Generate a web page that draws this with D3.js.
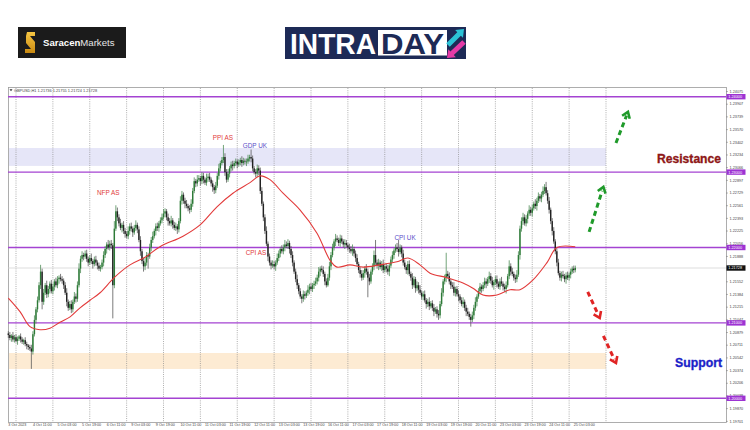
<!DOCTYPE html>
<html><head><meta charset="utf-8">
<script src="https://cdn.jsdelivr.net/npm/d3@7"></script>
<style>html,body{margin:0;padding:0;background:#fff;} svg{display:block;font-family:"Liberation Sans",Arial,sans-serif;}</style>
</head><body><svg id="c" width="750" height="430"></svg>
<script>
// ---------------- DATA ----------------
const headerText = "GBPUSD,H1  1.21736 1.21755 1.21724 1.21728";
const basePrice = 1.2;        // candle values are pips above this price
const firstOpen = 86;
const closes = [
84,80,83,78,81,76,79,82,78,75,77,72,70,68,66,
62,85,104,118,130,150,168,
128,140,150,138,145,152,142,148,155,150,158,160,
158,156,150,140,128,120,125,118,
128,135,132,150,172,185,190,
188,192,185,180,186,182,178,184,180,176,172,174,
180,190,198,204,200,205,203,
150,225,248,
240,232,226,230,222,218,215,222,228,225,220,226,230,224,
210,195,182,175,180,190,
188,200,210,215,
222,228,226,232,236,240,245,248,240,235,
232,236,230,226,228,224,235,
262,270,262,258,255,
252,250,258,
275,288,285,290,
292,288,295,290,286,292,294,
290,285,280,276,282,
295,305,312,316,
320,300,290,298,
305,310,308,
312,314,310,313,316,312,315,
314,314,318,320,318,305,300,298,305,
302,275,258,240,222,205,188,180,
176,178,175,180,
186,192,198,195,200,204,202,206,
198,190,180,168,
158,150,142,135,132,138,
136,140,144,148,145,150,152,155,160,
168,172,170,165,
155,150,160,175,190,200,
208,212,210,206,212,208,204,206,203,
200,198,195,198,192,186,
178,170,165,160,166,172,168,
160,155,168,175,190,180,176,
180,174,178,170,175,172,168,
176,184,190,196,200,198,194,200,
192,180,174,170,178,
165,160,150,158,146,150,
144,140,135,138,130,125,128,122,126,120,115,118,112,110,
125,140,155,160,165,162,
155,150,148,140,145,138,
135,130,125,128,120,115,112,108,104,110,120,128,
135,142,148,145,
150,155,152,158,162,156,150,154,158,152,148,155,152,
148,145,150,162,175,168,
165,160,158,164,
190,225,235,240,232,
238,245,250,246,252,258,
255,262,268,265,270,275,280,
272,
262,250,235,222,
208,195,180,
166,160,164,162,158,163,
160,164,168,172,170,173];
const hiWick = [
3,4,2,5,3,4,3,2,4,3, 2,4,3,2,3,5,4,6,3,5, 4,9,4,5,3,6,4,3,5,4, 3,5,4,3,5,4,3,4,6,3,
4,5,3,6,4,5,7,4,5,3, 4,5,3,4,6,3,4,5,3,4, 3,4,5,4,3,6,4,5,3,10, 8,5,4,6,3,5,4,3,6,4,
5,3,4,6,3,4,5,3,4,6, 4,3,5,4,6,3,4,5,3,4, 5,6,4,3,5,4,6,3,4,5, 3,4,6,5,3,4,5,3,4,6,
4,5,3,6,4,3,5,4,3,6, 4,5,3,4,3,5,4,6,3,4, 16,5,4,6,3,4,5,3,4,3, 4,3,5,4,3,4,5,3,10,4,
3,4,5,4,4,5,3,4,6,3, 4,3,5,4,3,6,4,3,5,4, 6,4,5,3,4,5,3,4,6,3, 4,3,5,4,3,6,4,5,3,4,
5,4,6,3,4,5,3,4,5,6, 4,5,3,6,4,3,5,4,3,5, 4,3,5,4,6,3,4,5,3,4, 5,4,3,6,4,5,3,4,6,20,
4,5,3,4,6,3,4,5,3,4, 5,3,4,6,12,4,3,5,4,3, 4,5,3,6,4,3,5,4,6,3, 4,5,3,4,6,3,4,5,3,4,
5,4,6,3,4,28,4,5,3,4, 6,3,4,5,3,4,6,3,4,5, 3,4,5,4,6,3,4,5,3,4, 5,4,3,6,4,5,3,4,5,3,
4,6,3,4,5,3,8,4,5,3, 4,6,5,4,5,6,4,5,3,6, 4,5,3,6,4,5,3,4,6,4, 7,4,5,3,4,5,3,4,5,3,
4,5,3,4,5,3,4,3,4,3];
const loWick = [
4,3,5,3,4,2,5,3,4,3, 4,3,5,4,3,23,4,3,5,4, 3,5,10,4,3,5,4,6,3,4, 5,3,4,6,3,4,5,3,6,4,
3,5,4,3,5,4,3,6,4,5, 3,4,5,3,4,6,3,4,5,3, 4,3,5,4,6,3,4,5,44,4, 3,5,4,3,6,4,5,3,4,5,
4,6,3,4,5,3,6,4,7,5, 4,16,3,5,4,3,6,4,5,3, 4,3,5,4,6,3,4,5,3,4, 6,4,3,5,4,6,3,4,5,3,
4,3,5,4,3,6,4,5,3,4, 5,3,4,6,5,4,3,5,4,3, 4,5,4,3,5,4,6,3,4,5, 3,4,5,3,4,6,3,4,5,4,
3,5,4,6,4,3,5,4,3,6, 4,5,3,4,6,3,4,5,3,4, 5,3,4,6,4,5,3,4,5,4, 3,6,4,5,3,4,6,3,4,5,
3,4,5,6,3,4,5,3,2,4, 5,3,4,6,3,4,5,3,4,6, 3,4,5,3,6,4,5,3,4,5, 4,3,6,4,26,5,3,4,5,3,
4,6,3,5,4,3,5,4,6,3, 4,5,3,4,6,3,5,4,3,5, 6,3,4,5,3,6,4,5,3,4, 5,3,6,4,5,3,4,6,3,5,
6,4,3,5,4,6,3,4,5,3, 4,5,3,6,4,3,5,4,6,3, 4,9,3,5,4,6,3,4,5,3, 4,6,3,5,4,3,6,4,5,3,
4,3,5,4,6,3,4,5,3,4, 5,4,3,6,4,5,3,4,6,3, 4,5,3,4,6,3,4,5,3,4, 3,4,5,4,6,3,4,5,3,4,
5,3,4,6,3,4,5,3,4,3];
// moving average (red line) read at these bar positions, in pips above basePrice
const maBars = [0,7.6,14.1,20.6,27.1,33.6,40.2,46.7,53.2,59.7,69.4,79.2,89,98.7,113.7,124.8,135.8,146.2,157.3,163.8,170.3,178.8,189.8,200.9,209.4,213.9,222.4,230.9,241.9,252.9,260.1,267.9,274.5,285.5,295.9,302.4,308.9,318,326.5,333,341.5,350.6,357.1,369];
const maPips = [133,115,95,91,93,101,108,120,130,140,161,177,187,201,215,230,254,272,286,295,290,272,250,219,183,174,177,174,177,181,186,177,166,160,153,146,137,137,144,144,157,180,200,201];
const dateLabels = ["3 Oct 2023","4 Oct 11:00","5 Oct 03:00","5 Oct 19:00","6 Oct 11:00","9 Oct 03:00","9 Oct 19:00","10 Oct 11:00","11 Oct 03:00","11 Oct 19:00","12 Oct 11:00","13 Oct 03:00","13 Oct 19:00","16 Oct 11:00","17 Oct 03:00","17 Oct 19:00","18 Oct 11:00","19 Oct 03:00","19 Oct 19:00","20 Oct 11:00","23 Oct 03:00","23 Oct 19:00","24 Oct 11:00","25 Oct 03:00"];
const priceTicks = [1.24075,1.23907,1.23739,1.23570,1.23402,1.23234,1.23066,1.22897,1.22729,1.22561,1.22393,1.22225,1.22056,1.21888,1.21552,1.21384,1.21215,1.21047,1.20879,1.20711,1.20542,1.20374,1.20206,1.20038,1.19870,1.19701];
const levelPrices = [1.24, 1.23, 1.22, 1.21, 1.20];
const lastPrice = 1.21728;
const zoneLow  = [1.23082, 1.20389];
const zoneHigh = [1.23320, 1.20601];
const eventNames  = ["NFP AS","PPI AS","GDP UK","CPI AS","CPI UK"];
const eventBars   = [65, 139.7, 160.5, 161.2, 258.2];
const eventPrices = [1.22690, 1.23432, 1.23326, 1.21894, 1.22106];
const arrowFromBar   = [395.5, 378.0, 377.1, 387.3];
const arrowFromPrice = [1.23386, 1.22207, 1.21411, 1.20828];
const arrowToBar     = [403.3, 387.3, 384.9, 395.5];
const arrowToPrice   = [1.23798, 1.22804, 1.21066, 1.20469];
const resistanceLabel = "Resistance", resistancePrice = 1.23120;
const supportLabel = "Support", supportPrice = 1.20416;

// ---------------- DRAW ----------------
const svg = d3.select("#c");
const plot = {left:8, top:87, right:726, bottom:422};
const x = d3.scaleLinear().domain([5, 389]).range([16, 606]);
const y = d3.scaleLinear().domain([1.20, 1.24]).range([398.3, 96.7]);
const P = v => basePrice + v / 10000;

// logos
const sar = svg.append("g");
sar.append("rect").attr("x",18).attr("y",27).attr("width",108).attr("height",31).attr("fill","#1b1b1b");
const gd = svg.append("defs").append("linearGradient").attr("id","gold").attr("x1",0).attr("y1",0).attr("x2",0).attr("y2",1);
gd.append("stop").attr("offset","0").attr("stop-color","#f6c643");
gd.append("stop").attr("offset","1").attr("stop-color","#c98a12");
sar.append("path").attr("d","M27,32 L35,32 L35,36 L30,36 L35,42 L35,53 L25,53 L25,49 L31,49 L26,43 L26,36 Z").attr("fill","url(#gold)");
const st = sar.append("text").attr("x",43).attr("y",46).attr("font-size",9.6).attr("fill","#fff");
st.append("tspan").attr("font-weight","bold").text("Saracen");
st.append("tspan").attr("fill","#e6e6e6").text("Markets");

const intra = svg.append("g");
intra.append("rect").attr("x",285).attr("y",27).attr("width",181).attr("height",32).attr("fill","#1d2a56");
intra.append("rect").attr("x",378).attr("y",30).attr("width",69).attr("height",25.5).attr("fill","#fff");
intra.append("text").attr("x",290).attr("y",53.5).attr("font-size",29.5).attr("font-weight","bold").attr("fill","#fff")
  .attr("textLength",86).attr("lengthAdjust","spacingAndGlyphs").text("INTRA");
intra.append("text").attr("x",381).attr("y",53.5).attr("font-size",29.5).attr("font-weight","bold").attr("fill","#1d2a56")
  .attr("textLength",63).attr("lengthAdjust","spacingAndGlyphs").text("DAY");
function blockArrow(g,x1,y1,x2,y2,sw,hw,hl,color){
  const L = Math.hypot(x2-x1,y2-y1), a = Math.atan2(y2-y1,x2-x1)*180/Math.PI;
  const pts = [[0,-sw/2],[L-hl,-sw/2],[L-hl,-hw/2],[L,0],[L-hl,hw/2],[L-hl,sw/2],[0,sw/2]];
  g.append("polygon").attr("points",pts.map(p=>p.join(",")).join(" "))
   .attr("transform",`translate(${x1},${y1}) rotate(${a})`).attr("fill",color);
}
blockArrow(intra,448,45,464,29,5,11,7,"#2cc3d6");
blockArrow(intra,464,42,447,58,5,11,7,"#e43aa6");

// chart frame
svg.append("rect").attr("x",plot.left+0.5).attr("y",plot.top+0.5)
  .attr("width",plot.right-plot.left).attr("height",plot.bottom-plot.top)
  .attr("fill","#fff").attr("stroke","#9a9a9a").attr("stroke-width",0.8);

// zones
const zoneColors = ["#e6e6f8","#fdebd3"];
svg.selectAll("rect.zone").data(zoneLow).join("rect").attr("class","zone")
  .attr("x",plot.left+1).attr("width",x(389)-plot.left-1)
  .attr("y",(d,i)=>y(zoneHigh[i])).attr("height",(d,i)=>y(zoneLow[i])-y(zoneHigh[i]))
  .attr("fill",(d,i)=>zoneColors[i]);

// vertical day grid
svg.selectAll("line.vgrid").data(d3.range(5, 390, 24)).join("line").attr("class","vgrid")
  .attr("x1",d=>x(d)).attr("x2",d=>x(d)).attr("y1",plot.top+1).attr("y2",plot.bottom)
  .attr("stroke","#8c8c8c").attr("stroke-width",0.7).attr("stroke-dasharray","1,1.2");

// current price line
svg.append("line").attr("x1",plot.left).attr("x2",plot.right).attr("y1",y(lastPrice)).attr("y2",y(lastPrice))
  .attr("stroke","#cfcfcf").attr("stroke-width",0.7);

// level lines
svg.selectAll("line.level").data(levelPrices).join("line").attr("class","level")
  .attr("x1",plot.left).attr("x2",plot.right).attr("y1",d=>y(d)).attr("y2",d=>y(d))
  .attr("stroke","#a443d2").attr("stroke-width",1.4);

// candles
const bars = closes.map((c,i)=>{
  const o = i===0 ? firstOpen : closes[i-1];
  return {i, o, c, h: Math.max(o,c)+hiWick[i], l: Math.min(o,c)-loWick[i]};
});
const cg = svg.append("g");
cg.selectAll("line").data(bars).join("line")
  .attr("x1",d=>x(d.i)).attr("x2",d=>x(d.i)).attr("y1",d=>y(P(d.h))).attr("y2",d=>y(P(d.l)))
  .attr("stroke",d=>d.c>=d.o?"#4f8d58":"#5a5a5a").attr("stroke-width",0.8);
cg.selectAll("rect").data(bars).join("rect")
  .attr("x",d=>x(d.i)-0.7).attr("width",1.4)
  .attr("y",d=>y(P(Math.max(d.o,d.c))))
  .attr("height",d=>Math.max(0.8, Math.abs(y(P(d.o))-y(P(d.c)))))
  .attr("fill",d=>d.c>=d.o?"#2d7a37":"#222");

// moving average
const ma = maBars.map((b,i)=>[b, maPips[i]]);
svg.append("path").datum(ma)
  .attr("d", d3.line().x(d=>x(d[0])).y(d=>y(P(d[1]))).curve(d3.curveCatmullRom.alpha(0.5)))
  .attr("fill","none").attr("stroke","#e23a3a").attr("stroke-width",1.1);

// event labels
const eventColors = ["#e23a3a","#e23a3a","#5a4fc8","#e23a3a","#5a4fc8"];
svg.selectAll("text.ev").data(eventNames).join("text").attr("class","ev")
  .attr("x",(d,i)=>x(eventBars[i])).attr("y",(d,i)=>y(eventPrices[i]))
  .attr("text-anchor","middle").attr("font-size",6.4).attr("fill",(d,i)=>eventColors[i]).text(d=>d);

// dashed arrows
const arrowColors = ["#1f9a2a","#1f9a2a","#e02424","#e02424"];
arrowFromBar.forEach((b,k)=>{
  const x1=x(b), y1=y(arrowFromPrice[k]), x2=x(arrowToBar[k]), y2=y(arrowToPrice[k]);
  const ang = Math.atan2(y2-y1,x2-x1), col = arrowColors[k];
  svg.append("line").attr("x1",x1).attr("y1",y1)
    .attr("x2",x2-Math.cos(ang)*4).attr("y2",y2-Math.sin(ang)*4)
    .attr("stroke",col).attr("stroke-width",3).attr("stroke-dasharray","5,3.5");
  const a=7, s=0.62;
  const p1=[x2-a*Math.cos(ang-s), y2-a*Math.sin(ang-s)];
  const p2=[x2-a*Math.cos(ang+s), y2-a*Math.sin(ang+s)];
  svg.append("path").attr("d",`M${p1}L${x2},${y2}L${p2}`).attr("fill","none")
    .attr("stroke",col).attr("stroke-width",2.6).attr("stroke-linejoin","miter");
});

// Resistance / Support
svg.append("text").attr("x",plot.right-5).attr("y",y(resistancePrice)).attr("text-anchor","end")
  .attr("font-size",12.8).attr("font-weight","bold").attr("fill","#8e1616")
  .attr("stroke","#8e1616").attr("stroke-width",0.35)
  .attr("textLength",64).attr("lengthAdjust","spacingAndGlyphs").text(resistanceLabel);
svg.append("text").attr("x",plot.right-4).attr("y",y(supportPrice)).attr("text-anchor","end")
  .attr("font-size",13).attr("font-weight","bold").attr("fill","#1a1ec8")
  .attr("stroke","#1a1ec8").attr("stroke-width",0.35)
  .attr("textLength",47).attr("lengthAdjust","spacingAndGlyphs").text(supportLabel);

// header
svg.append("path").attr("d","M9.5,89.3 L12.5,89.3 L11,91.3 Z").attr("fill","#333");
svg.append("text").attr("x",14).attr("y",91.6).attr("font-size",3.9).attr("fill","#444").text(headerText);

// axes
const xAxis = svg.append("g").attr("transform",`translate(0,${plot.bottom})`)
  .call(d3.axisBottom(x).tickValues(d3.range(0, 369, 16)).tickFormat((d,i)=>dateLabels[i]).tickSize(0));
xAxis.select(".domain").remove();
xAxis.selectAll("text").attr("text-anchor","start").attr("x",-0.5).attr("y",1.6)
  .attr("font-size",3.7).attr("fill","#444").attr("font-family","'Liberation Sans',Arial,sans-serif");

const yAxis = svg.append("g").attr("transform",`translate(${plot.right},0)`)
  .call(d3.axisRight(y).tickValues(priceTicks).tickFormat(d3.format(".5f")).tickSize(2).tickPadding(1.5));
yAxis.select(".domain").remove();
yAxis.selectAll("line").attr("stroke","#777").attr("stroke-width",0.5);
yAxis.selectAll("text").attr("font-size",3.8).attr("fill","#444").attr("font-family","'Liberation Sans',Arial,sans-serif");

// level boxes on the price axis
const lb = svg.selectAll("g.lbox").data(levelPrices).join("g").attr("class","lbox")
  .attr("transform",d=>`translate(${plot.right+0.5},${y(d)})`);
lb.append("rect").attr("x",0).attr("y",-2.7).attr("width",19).attr("height",5.4).attr("fill","#9d33d3");
lb.append("text").attr("x",1.8).attr("y",1.4).attr("font-size",3.8).attr("fill","#fff").text(d=>d3.format(".5f")(d));

const cp = svg.append("g").attr("transform",`translate(${plot.right+0.5},${y(lastPrice)})`);
cp.append("rect").attr("x",0).attr("y",-2.7).attr("width",19).attr("height",5.4).attr("fill","#111");
cp.append("text").attr("x",1.8).attr("y",1.4).attr("font-size",3.8).attr("fill","#fff").text(d3.format(".5f")(lastPrice));
</script></body></html>
